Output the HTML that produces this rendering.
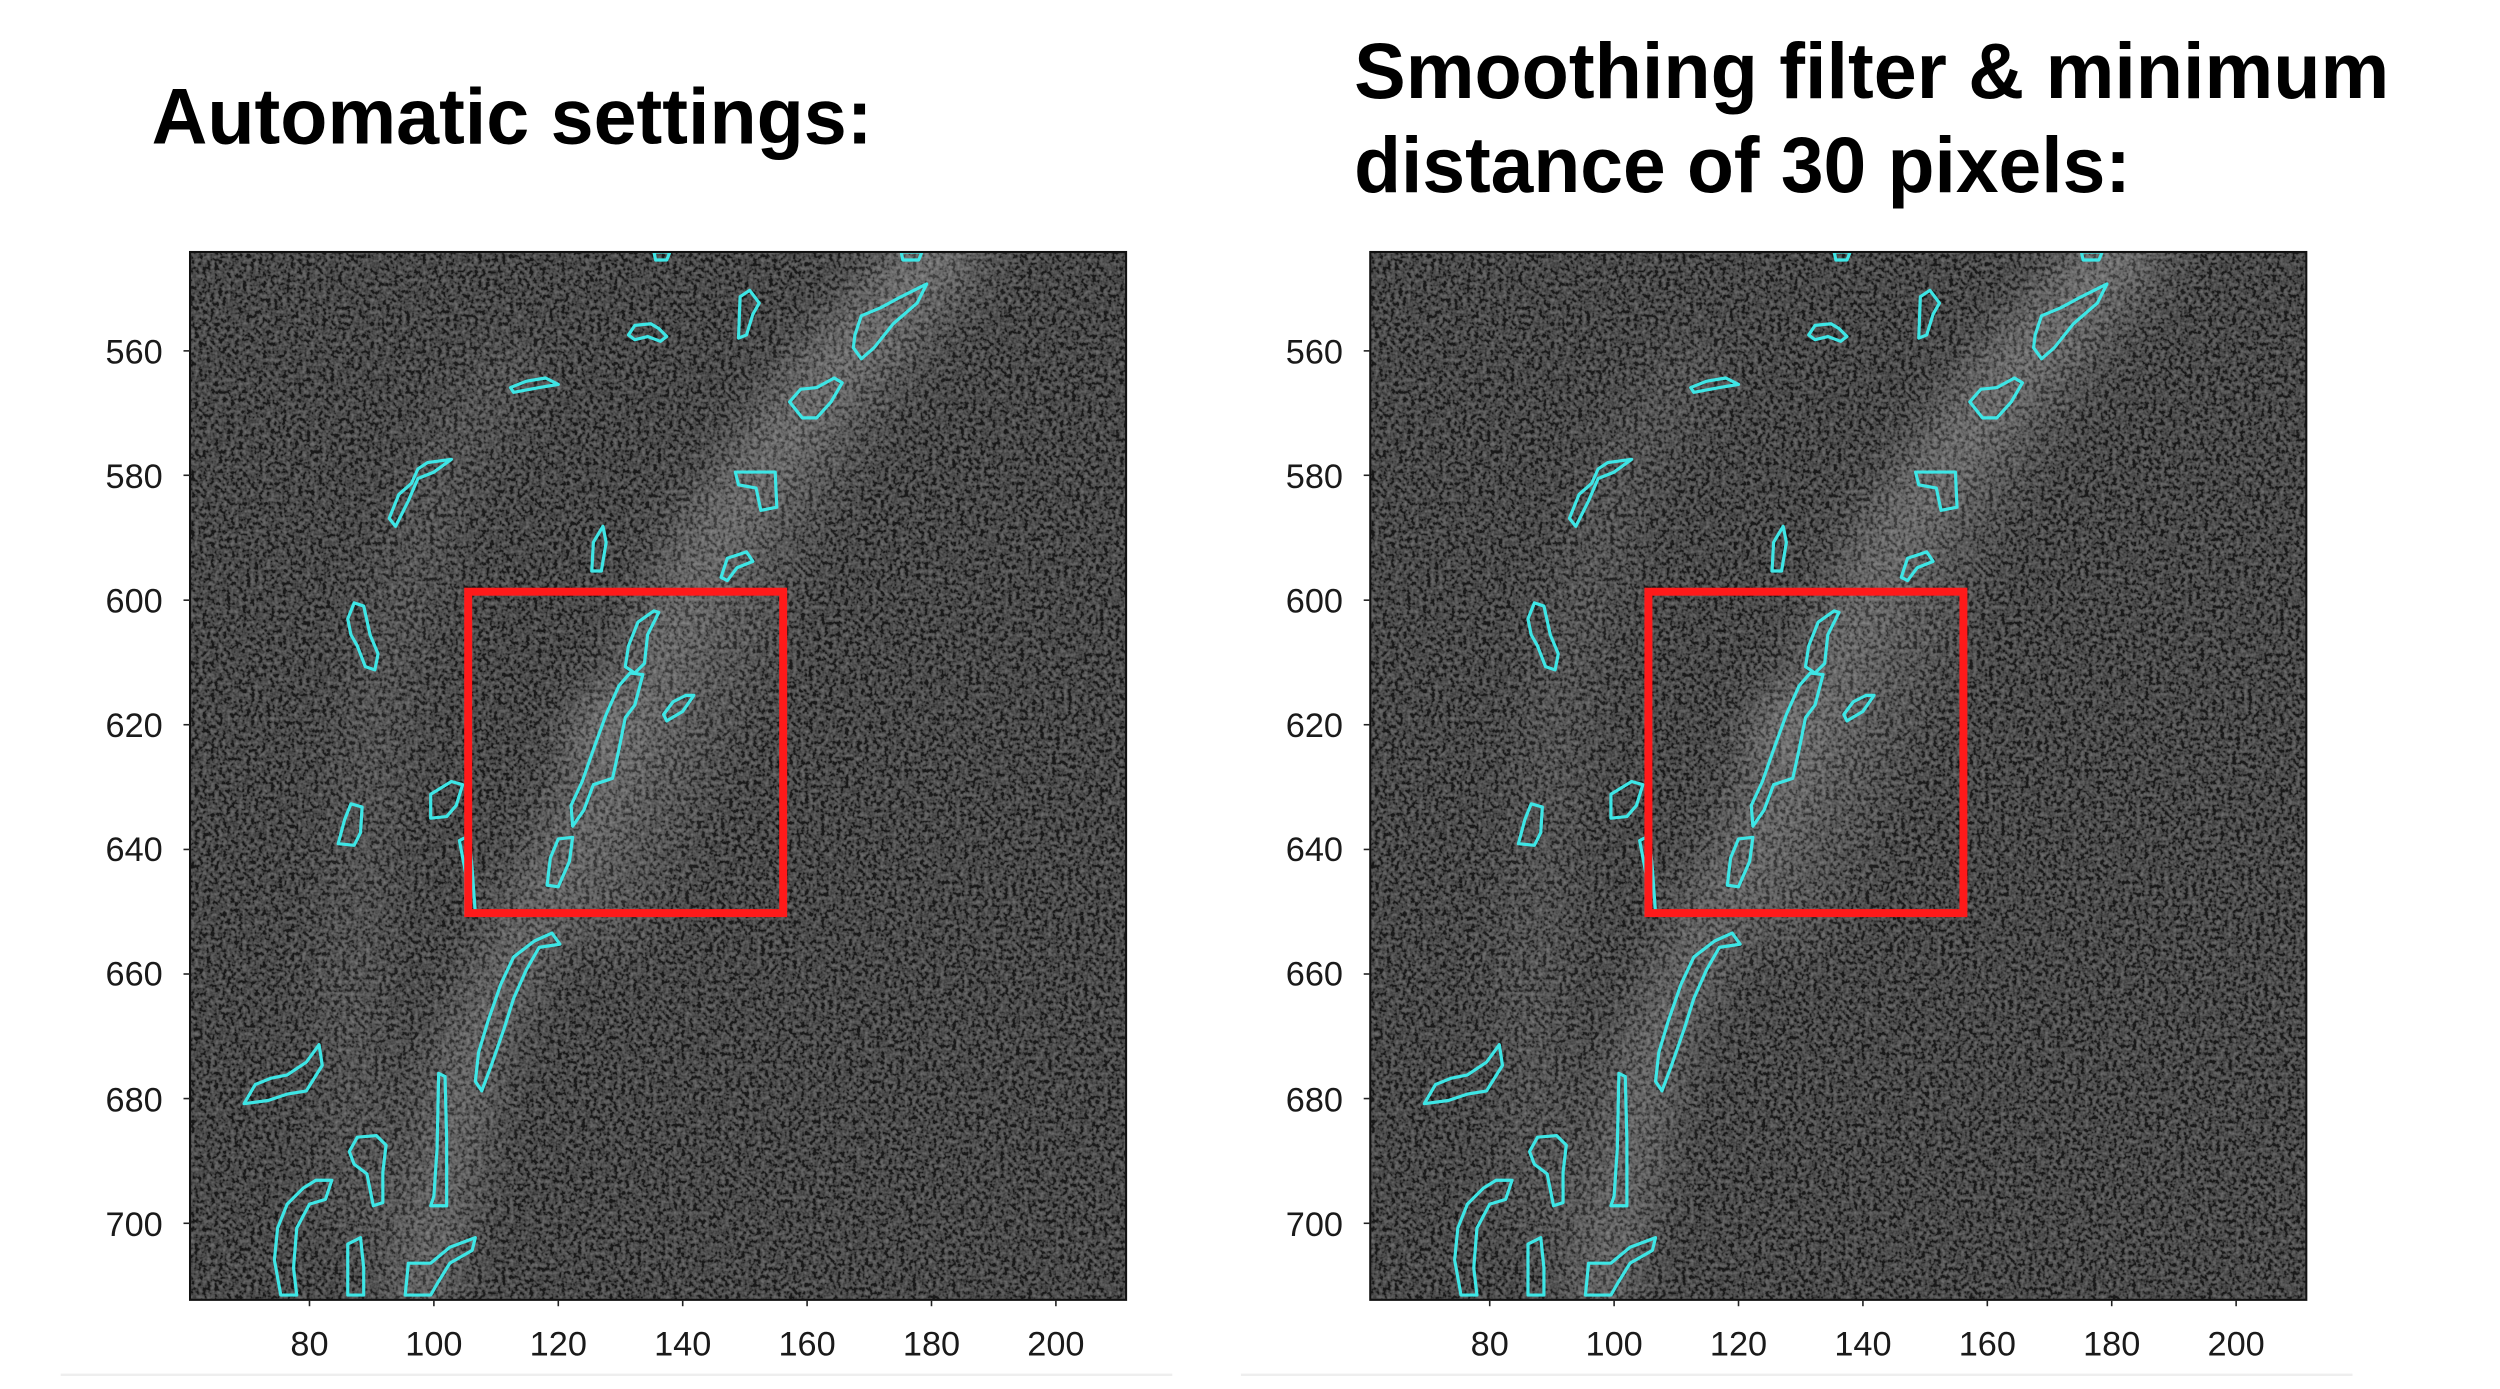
<!DOCTYPE html>
<html><head><meta charset="utf-8"><style>html,body{margin:0;padding:0;background:#fff;}svg{display:block}</style></head>
<body>
<svg width="2500" height="1389" viewBox="0 0 1567.4 870.9" xmlns="http://www.w3.org/2000/svg">
<defs>
<filter id="noise" x="0" y="0" width="100%" height="100%">
<feTurbulence type="fractalNoise" baseFrequency="0.4" numOctaves="2" seed="3"/>
<feColorMatrix values="2 0 0 0 -0.72  2 0 0 0 -0.72  2 0 0 0 -0.72  0 0 0 0 1"/>
</filter>
<filter id="blur" x="-50%" y="-50%" width="200%" height="200%"><feGaussianBlur stdDeviation="14"/></filter>
<clipPath id="clip"><rect x="119.1" y="158" width="586.9" height="657"/></clipPath>
<g id="plot">
<g clip-path="url(#clip)">
<rect x="119.1" y="158" width="586.9" height="657" fill="#262626"/>
<rect x="119.1" y="158" width="586.9" height="657" filter="url(#noise)" opacity="0.33"/>
<g filter="url(#blur)" fill="none" stroke-linecap="round">
<polyline points="262,815 295,660 340,560 385,470 440,340 510,240 590,150" stroke="#fff" stroke-opacity="0.15" stroke-width="42"/>
<polyline points="380,570 420,480 455,400 480,330 530,250 600,160" stroke="#fff" stroke-opacity="0.08" stroke-width="55"/>
<polyline points="225,760 220,620 240,420 275,300 320,230" stroke="#fff" stroke-opacity="0.06" stroke-width="40"/>
<polyline points="365,470 378,440" stroke="#fff" stroke-opacity="0.3" stroke-width="14"/>
</g>
<g fill="none" stroke="#3ee6e6" stroke-width="2" stroke-linejoin="round">
<polygon points="410,158 420,158 418,163 411,163"/>
<polygon points="565,158 578,158 576,163 566,163"/>
<polygon points="394,210 398,204 408,203 413,206 418,211 414,214 406,211 398,213"/>
<polygon points="464,186 470,182 476,190 472,197 468,210 463,212"/>
<polygon points="536,210 540,198 552,193 565,186 581,178 575,190 560,203 548,218 540,225 535,218"/>
<polygon points="320,243 330,239 342,237 350,241 338,243 322,246"/>
<polygon points="495,252 502,244 512,243 523,237 528,240 521,252 512,262 503,262"/>
<polygon points="244,325 250,310 258,303 262,294 268,290 283,288 272,296 262,300 256,314 248,330"/>
<polygon points="461,296 486,296 487,318 477,320 474,306 463,304"/>
<polygon points="372,340 378,330 380,340 377,358 371,358"/>
<polygon points="452,362 456,350 468,346 472,352 462,356 456,364"/>
<polygon points="218,388 222,378 228,380 232,398 237,410 235,420 229,418 224,405 220,398"/>
<polygon points="394,405 400,390 410,383 413,384 406,398 404,416 398,422 392,418"/>
<polygon points="372,470 380,448 388,430 395,422 403,423 398,442 392,450 388,470 384,488 372,492 366,508 359,518 358,505 365,490"/>
<polygon points="343,555 345,538 350,526 359,525 357,540 350,556"/>
<polygon points="416,448 422,440 430,436 435,436 428,446 418,452"/>
<polygon points="270,513 270,498 283,490 290,492 286,505 280,512"/>
<polygon points="212,529 216,514 220,504 227,506 226,522 222,530"/>
<polygon points="288,527 294,524 296,545 298,573 292,573 292,548"/>
<polygon points="298,678 300,660 306,640 314,617 322,600 335,590 346,585 351,592 338,594 330,608 322,626 316,645 308,668 302,684"/>
<polygon points="153,692 160,680 170,676 180,674 192,666 200,655 202,668 192,684 180,686 168,690"/>
<polygon points="219,722 224,713 236,712 242,718 240,735 240,754 234,756 230,736 222,730"/>
<polygon points="272,750 274,720 275,673 279,675 280,715 280,756 270,756"/>
<polygon points="172,790 174,770 180,755 190,745 198,740 208,740 204,752 194,755 186,770 184,795 186,812 176,812"/>
<polygon points="218,812 218,780 226,776 228,795 228,812"/>
<polygon points="254,812 256,792 270,792 282,782 298,776 296,784 282,792 274,805 270,812"/>
</g>
<rect x="293.5" y="371" width="197.5" height="201.5" fill="none" stroke="#ff1a1a" stroke-width="5"/>
</g>
<rect x="119.1" y="158" width="586.9" height="657" fill="none" stroke="#111" stroke-width="1.3"/>
<g stroke="#222" stroke-width="1">
<line x1="194" y1="815" x2="194" y2="819"/><line x1="272" y1="815" x2="272" y2="819"/><line x1="350" y1="815" x2="350" y2="819"/><line x1="428" y1="815" x2="428" y2="819"/><line x1="506" y1="815" x2="506" y2="819"/><line x1="584" y1="815" x2="584" y2="819"/><line x1="662" y1="815" x2="662" y2="819"/>
<line x1="115" y1="220" x2="119" y2="220"/><line x1="115" y1="298" x2="119" y2="298"/><line x1="115" y1="376.3" x2="119" y2="376.3"/><line x1="115" y1="454.4" x2="119" y2="454.4"/><line x1="115" y1="532.6" x2="119" y2="532.6"/><line x1="115" y1="610.7" x2="119" y2="610.7"/><line x1="115" y1="688.8" x2="119" y2="688.8"/><line x1="115" y1="767" x2="119" y2="767"/>
</g>
<g font-family="'Liberation Sans', sans-serif" font-size="21.5" fill="#1a1a1a">
<g text-anchor="middle"><text x="194" y="850">80</text><text x="272" y="850">100</text><text x="350" y="850">120</text><text x="428" y="850">140</text><text x="506" y="850">160</text><text x="584" y="850">180</text><text x="662" y="850">200</text></g>
<g text-anchor="end"><text x="102" y="228">560</text><text x="102" y="306">580</text><text x="102" y="384">600</text><text x="102" y="462">620</text><text x="102" y="540">640</text><text x="102" y="618">660</text><text x="102" y="697">680</text><text x="102" y="775">700</text></g>
</g>
<line x1="38" y1="862" x2="735" y2="862" stroke="#eee" stroke-width="1.5"/>
</g>
</defs>
<use href="#plot"/>
<use href="#plot" transform="translate(740,0)"/>
<g font-family="'Liberation Sans', sans-serif" font-weight="bold" font-size="49.5" fill="#000">
<text x="95" y="90" textLength="452" lengthAdjust="spacingAndGlyphs">Automatic settings:</text>
<text x="849" y="61.4" textLength="649" lengthAdjust="spacingAndGlyphs">Smoothing filter &amp; minimum</text>
<text x="849" y="120.4" textLength="487" lengthAdjust="spacingAndGlyphs">distance of 30 pixels:</text>
</g>
</svg>
</body></html>
